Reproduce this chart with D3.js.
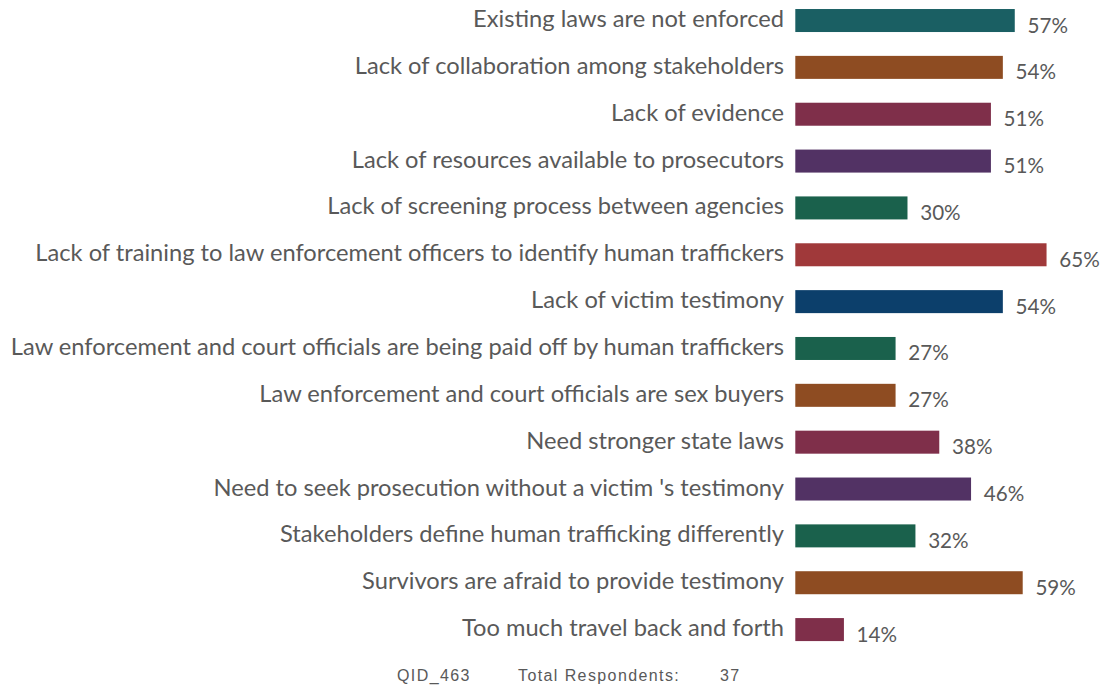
<!DOCTYPE html>
<html>
<head>
<meta charset="utf-8">
<script src="https://cdn.jsdelivr.net/npm/d3@7"></script>
<style>
  html, body { margin: 0; padding: 0; background: #ffffff; }
  svg { display: block; }
</style>
</head>
<body>
<svg id="chart" width="1102" height="685"></svg>
<script>
const categories = [
  "Existing laws are not enforced",
  "Lack of collaboration among stakeholders",
  "Lack of evidence",
  "Lack of resources available to prosecutors",
  "Lack of screening process between agencies",
  "Lack of training to law enforcement officers to identify human traffickers",
  "Lack of victim testimony",
  "Law enforcement and court officials are being paid off by human traffickers",
  "Law enforcement and court officials are sex buyers",
  "Need stronger state laws",
  "Need to seek prosecution without a victim 's testimony",
  "Stakeholders define human trafficking differently",
  "Survivors are afraid to provide testimony",
  "Too much travel back and forth"
];
const values = [57, 54, 51, 51, 30, 65, 54, 27, 27, 38, 46, 32, 59, 14];
const barColors = [
  "#1a5f63", "#8e4c22", "#7f2f4a", "#523264", "#1a614c", "#a0393a", "#0c3f6b",
  "#1a614c", "#8e4c22", "#7f2f4a", "#523264", "#1a614c", "#8e4c22", "#7f2f4a"
];
const footerQid = "QID_463";
const footerLabel = "Total Respondents:";
const footerCount = "37";

const svg = d3.select("#chart");
const textColor = "#595959";
const labelFont = "Lato, 'Open Sans', sans-serif";

const plotLeft = 795.3;   // where bars start
const zeroX = 788.3;      // x position of value 0
const x = d3.scaleLinear().domain([0, 100]).range([zeroX, zeroX + 397.3]);
const y = d3.scaleBand()
  .domain(categories)
  .range([-2.9, 653])
  .paddingInner(0.509)
  .paddingOuter(0.2545);

function fitSize(str, target) {
  const probe = svg.append("text").attr("font-family", labelFont).attr("font-size", 20).text(str);
  const len = probe.node().getComputedTextLength();
  probe.remove();
  return 20 * target / len;
}
const fontSize = fitSize(categories[5], 749);
const valueSize = fitSize(values[0] + "%", 40.5);

// bars
svg.append("g").selectAll("rect")
  .data(values)
  .join("rect")
  .attr("x", plotLeft)
  .attr("y", (d, i) => y(categories[i]))
  .attr("width", d => x(d) - plotLeft)
  .attr("height", y.bandwidth())
  .attr("fill", (d, i) => barColors[i]);

// category labels
svg.append("g").selectAll("text")
  .data(categories)
  .join("text")
  .attr("x", 784)
  .attr("y", d => y(d) + y.bandwidth() / 2 + 6.5)
  .attr("text-anchor", "end")
  .attr("font-family", labelFont)
  .attr("font-size", fontSize)
  .attr("fill", textColor)
  .text(d => d);

// value labels
svg.append("g").selectAll("text")
  .data(values)
  .join("text")
  .attr("x", d => x(d) + 12.7)
  .attr("y", (d, i) => y(categories[i]) + y.bandwidth() / 2 + 12)
  .attr("font-family", labelFont)
  .attr("font-size", valueSize)
  .attr("fill", textColor)
  .text(d => d + "%");

// footer
const footer = svg.append("g")
  .attr("font-family", "'Liberation Sans', Arial, sans-serif")
  .attr("font-size", 16)
  .attr("letter-spacing", 1.4)
  .attr("fill", textColor);
footer.append("text").attr("x", 397).attr("y", 681).text(footerQid);
footer.append("text").attr("x", 518).attr("y", 681).text(footerLabel);
footer.append("text").attr("x", 720).attr("y", 681).text(footerCount);
</script>
</body>
</html>
